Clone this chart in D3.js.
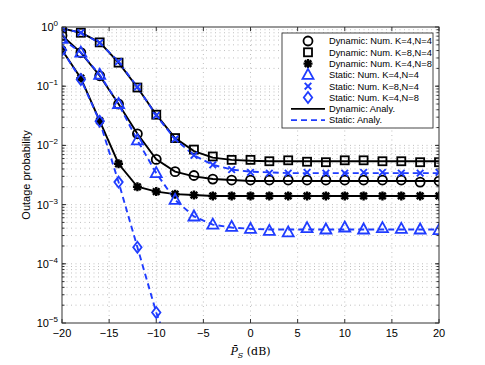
<!DOCTYPE html>
<html><head><meta charset="utf-8">
<script src="https://cdn.jsdelivr.net/npm/d3@7"></script>
<style>body{margin:0;background:#fff}svg{display:block}text{font-family:"Liberation Sans",Arial,sans-serif}text.serif{font-family:"DejaVu Serif","Liberation Serif",serif}</style>
</head><body>
<script>
const snr = [-20,-18,-16,-14,-12,-10,-8,-6,-4,-2,0,2,4,6,8,10,12,14,16,18,20];
// Numerical (markers)
const dynK4N4 = [0.72,0.37,0.15,0.050,0.0157,0.0058,0.0036,0.0031,0.0027,0.0026,0.0026,0.0026,0.0026,0.0026,0.0026,0.0026,0.0026,0.0026,0.0026,0.0024,0.0025];
const dynK8N4 = [0.95,0.80,0.55,0.25,0.095,0.033,0.0133,0.0085,0.0065,0.0057,0.0057,0.0054,0.0056,0.0053,0.0052,0.0056,0.0056,0.0054,0.0054,0.0052,0.0052];
const dynK4N8 = [0.41,0.137,0.026,0.0049,0.0020,0.00166,0.0015,0.00145,0.0014,0.0014,0.0014,0.0014,0.0014,0.0014,0.0014,0.0014,0.0014,0.0014,0.0014,0.0014,0.0014];
const stK4N4 = [0.63,0.37,0.156,0.050,0.0122,0.0034,0.0012,0.00063,0.00046,0.00042,0.00039,0.00036,0.00034,0.0004,0.00038,0.00041,0.00038,0.0004,0.00039,0.00038,0.00037];
const stK8N4 = [0.95,0.80,0.54,0.26,0.097,0.032,0.0128,0.0068,0.0047,0.0039,0.0035,0.0034,0.0034,0.0035,0.0034,0.0034,0.0035,0.0035,0.0034,0.0034,0.0035];
const stK4N8 = [0.41,0.13,0.0255,0.0024,0.00019,0.000015];
// Analytical (lines)
const anaSnr = snr;
const anaDynK4N4 = [0.72,0.37,0.15,0.050,0.0157,0.0058,0.0036,0.0030,0.0027,0.0026,0.0025,0.0025,0.0025,0.0025,0.0025,0.0025,0.0025,0.0025,0.0025,0.0025,0.0025];
const anaDynK8N4 = [0.95,0.80,0.55,0.25,0.095,0.033,0.0133,0.0080,0.0062,0.0057,0.0055,0.0054,0.0054,0.0054,0.0054,0.0054,0.0054,0.0054,0.0054,0.0054,0.0054];
const anaDynK4N8 = [0.41,0.137,0.026,0.0049,0.0020,0.00166,0.0015,0.00145,0.0014,0.0014,0.0014,0.0014,0.0014,0.0014,0.0014,0.0014,0.0014,0.0014,0.0014,0.0014,0.0014];
const anaStK4N4 = [0.63,0.37,0.156,0.050,0.0122,0.0034,0.0012,0.00063,0.00046,0.00041,0.00039,0.00038,0.00038,0.00038,0.00038,0.00038,0.00038,0.00038,0.00038,0.00038,0.00038];
const anaStK8N4 = [0.95,0.80,0.54,0.26,0.097,0.032,0.0128,0.0068,0.0047,0.0039,0.0036,0.0035,0.0034,0.0034,0.0034,0.0034,0.0034,0.0034,0.0034,0.0034,0.0034];
const anaStK4N8snr = [-20,-18,-16,-14,-12,-10,-8];
const anaStK4N8 = [0.41,0.13,0.0255,0.0024,0.00019,0.000015,0.000002];
const xTicks = [-20,-15,-10,-5,0,5,10,15,20];
const yExps = [0,-1,-2,-3,-4,-5];
const legendLabels = ["Dynamic: Num. K=4,N=4","Dynamic: Num. K=8,N=4","Dynamic: Num. K=4,N=8","Static: Num. K=4,N=4","Static: Num. K=8,N=4","Static: Num. K=4,N=8","Dynamic: Analy.","Static: Analy."];

const W=485,H=365, L=62, R=439, T=27, B=323;
const BLUE="#1f3cff", BLACK="#000";
const svg=d3.select("body").append("svg").attr("width",W).attr("height",H);
const x=d3.scaleLinear().domain([-20,20]).range([L,R]);
const y=d3.scaleLog().domain([1e-5,1]).range([B,T]);

// grid
const grid=svg.append("g").attr("stroke","#b0b0b0").attr("stroke-width",0.8).attr("stroke-dasharray","1,3.5");
xTicks.slice(1,-1).forEach(v=>grid.append("line").attr("x1",x(v)).attr("x2",x(v)).attr("y1",T).attr("y2",B));
const minorY=[];
for(let e=-5;e<0;e++){for(let m=1;m<10;m++){const v=m*Math.pow(10,e); if(v>1e-5&&v<1) minorY.push(v);}}
minorY.forEach(v=>grid.append("line").attr("x1",L).attr("x2",R).attr("y1",y(v)).attr("y2",y(v)));

svg.append("clipPath").attr("id","c").append("rect").attr("x",L).attr("y",T).attr("width",R-L).attr("height",B-T);
const plot=svg.append("g").attr("clip-path","url(#c)");
const line=d3.line().x(d=>x(d[0])).y(d=>y(d[1]));
function drawLine(xs,ys,color,dash){
  plot.append("path").datum(xs.map((v,i)=>[v,ys[i]])).attr("d",line).attr("fill","none")
   .attr("stroke",color).attr("stroke-width",1.9).attr("stroke-dasharray",dash||null);
}
drawLine(anaSnr,anaDynK8N4,BLACK);
drawLine(anaSnr,anaDynK4N4,BLACK);
drawLine(anaSnr,anaDynK4N8,BLACK);
drawLine(anaSnr,anaStK8N4,BLUE,"6,4");
drawLine(anaSnr,anaStK4N4,BLUE,"6,4");
drawLine(anaStK4N8snr,anaStK4N8,BLUE,"6,4");

function marker(g,type,cx,cy){
  const s=g.append("g").attr("transform",`translate(${cx},${cy})`);
  if(type==="circle") s.append("circle").attr("r",4.5).attr("fill","none").attr("stroke",BLACK).attr("stroke-width",1.8);
  if(type==="square") s.append("rect").attr("x",-4).attr("y",-4).attr("width",8).attr("height",8).attr("fill","none").attr("stroke",BLACK).attr("stroke-width",1.8);
  if(type==="star") s.append("path").attr("d","M-4.5,0H4.5M0,-4.5V4.5M-3.3,-3.3L3.3,3.3M-3.3,3.3L3.3,-3.3").attr("stroke",BLACK).attr("stroke-width",2.4).attr("fill","none");
  if(type==="tri") s.append("path").attr("d","M0,-6L5.5,4L-5.5,4Z").attr("fill","none").attr("stroke",BLUE).attr("stroke-width",1.8);
  if(type==="x") s.append("path").attr("d","M-3.3,-3.3L3.3,3.3M-3.3,3.3L3.3,-3.3").attr("stroke",BLUE).attr("stroke-width",1.9);
  if(type==="diamond") s.append("path").attr("d","M0,-5.5L4.2,0L0,5.5L-4.2,0Z").attr("fill","none").attr("stroke",BLUE).attr("stroke-width",1.8);
}
function drawMarkers(vals,type){ vals.forEach((v,i)=>marker(plot,type,x(snr[i]),y(v))); }
drawMarkers(dynK8N4,"square");
drawMarkers(dynK4N4,"circle");
drawMarkers(dynK4N8,"star");
drawMarkers(stK8N4,"x");
drawMarkers(stK4N4,"tri");
drawMarkers(stK4N8,"diamond");

// axes frame & ticks
const ax=svg.append("g").attr("stroke","#333").attr("stroke-width",1);
ax.append("rect").attr("x",L).attr("y",T).attr("width",R-L).attr("height",B-T).attr("fill","none");
xTicks.forEach(v=>{
  ax.append("line").attr("x1",x(v)).attr("x2",x(v)).attr("y1",B).attr("y2",B-4);
  ax.append("line").attr("x1",x(v)).attr("x2",x(v)).attr("y1",T).attr("y2",T+4);
});
yExps.forEach(e=>{
  const v=Math.pow(10,e);
  ax.append("line").attr("x1",L).attr("x2",L+4).attr("y1",y(v)).attr("y2",y(v));
  ax.append("line").attr("x1",R).attr("x2",R-4).attr("y1",y(v)).attr("y2",y(v));
});
minorY.forEach(v=>{
  ax.append("line").attr("x1",L).attr("x2",L+2.5).attr("y1",y(v)).attr("y2",y(v));
  ax.append("line").attr("x1",R).attr("x2",R-2.5).attr("y1",y(v)).attr("y2",y(v));
});
// tick labels
svg.append("g").selectAll("text").data(xTicks).join("text")
  .attr("x",d=>x(d)).attr("y",337).attr("text-anchor","middle").attr("font-size",11)
  .text(d=>d<0?"\u2212"+Math.abs(d):d);
yExps.forEach(e=>{
  const t=svg.append("text").attr("x",L-4).attr("y",y(Math.pow(10,e))+4).attr("text-anchor","end").attr("font-size",11);
  t.append("tspan").text("10");
  t.append("tspan").attr("dy",-5).attr("font-size",8).text(e===0?"0":"\u2212"+Math.abs(e));
});
svg.append("text").attr("transform",`translate(30,${(T+B)/2}) rotate(-90)`).attr("text-anchor","middle").attr("font-size",11).text("Outage probability");
const xl=svg.append("text").attr("class","serif").attr("x",(L+R)/2).attr("y",355).attr("text-anchor","middle").attr("font-size",11);
xl.append("tspan").attr("font-style","italic").text("P\u0304");
xl.append("tspan").attr("font-style","italic").attr("font-size",8).attr("dy",3).text("S");
xl.append("tspan").attr("dy",-3).text(" (dB)");

// legend
const lg=svg.append("g");
lg.append("rect").attr("x",282).attr("y",33).attr("width",151).attr("height",95).attr("fill","#fff").attr("stroke","#333").attr("stroke-width",0.9);
const types=["circle","square","star","tri","x","diamond"];
legendLabels.forEach((lab,i)=>{
  const cy=41+i*11.3;
  if(i<6) marker(lg,types[i],308,cy);
  else lg.append("line").attr("x1",291).attr("x2",325).attr("y1",cy).attr("y2",cy).attr("stroke",i===6?BLACK:BLUE).attr("stroke-width",1.8).attr("stroke-dasharray",i===7?"6,4":null);
  lg.append("text").attr("x",329).attr("y",cy+3.3).attr("font-size",9.3).text(lab);
});
</script>
</body></html>
